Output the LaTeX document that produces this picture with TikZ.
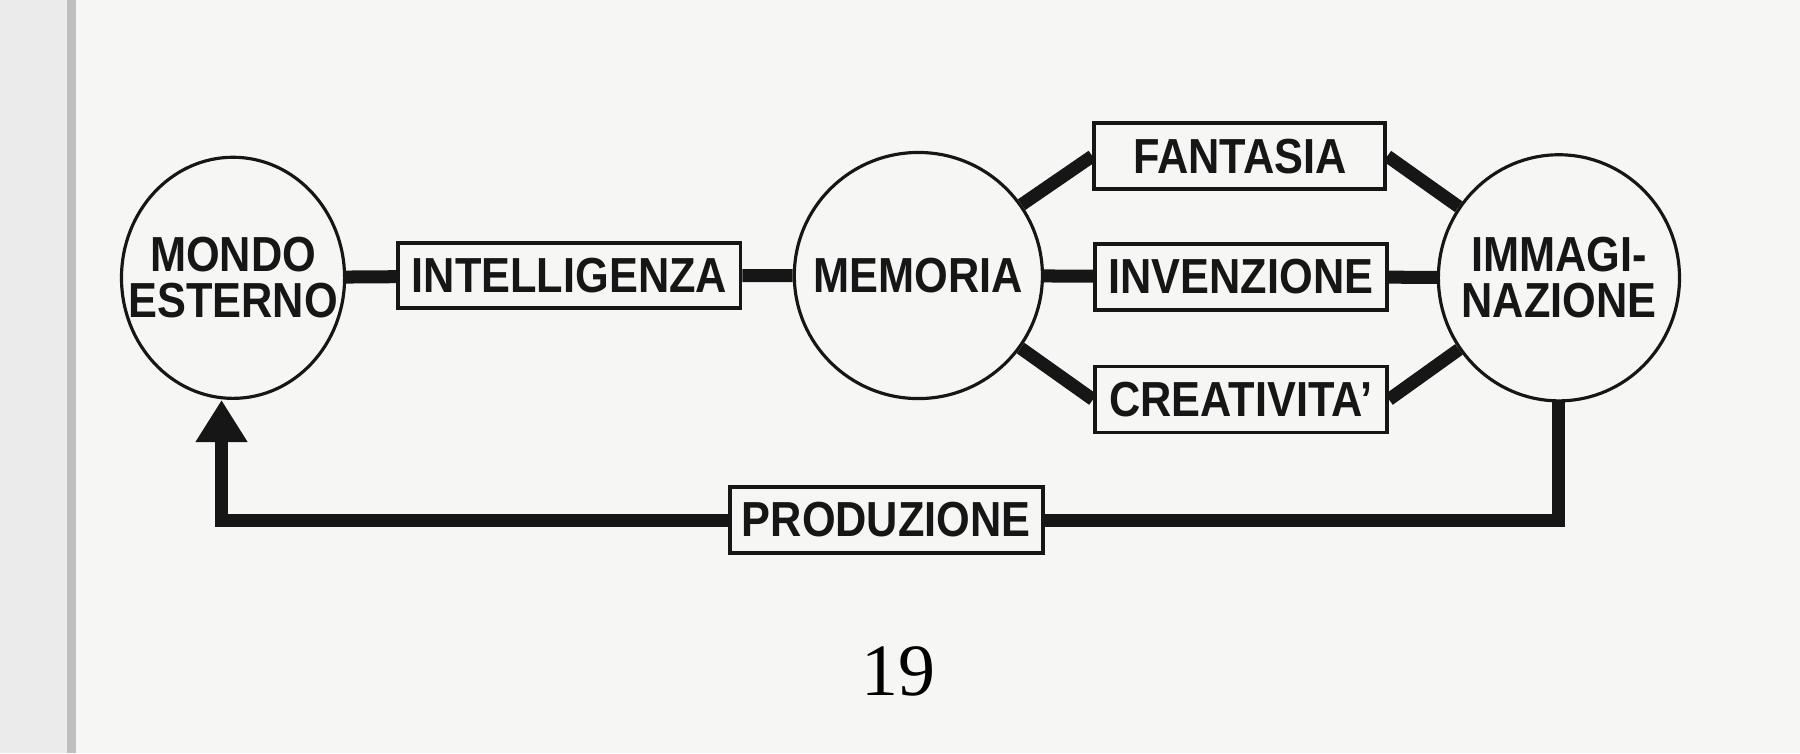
\documentclass[tikz,border=0pt]{standalone}
\usepackage{fontspec}
\setmainfont{Liberation Sans}
\newfontfamily\pagefont{Liberation Serif}
\usetikzlibrary{shapes.geometric, arrows.meta, positioning, backgrounds}
\definecolor{paper}{RGB}{246, 246, 244}
\definecolor{ink}{RGB}{22, 22, 22}
\tikzset{
  txt/.style={font=\fontsize{14}{14}\selectfont\bfseries, text=ink, align=center, inner sep=0pt},
  circ/.style={ellipse, draw=ink, line width=0.9pt, fill=paper, inner sep=0pt},
  box/.style={rectangle, draw=ink, line width=1.1pt, fill=paper, txt},
  link/.style={draw=ink, line width=3.7pt}
}
\newcommand{\sq}[1]{\scalebox{0.88}[1]{#1}}
\begin{document}
\begin{tikzpicture}[x=0.01148cm, y=-0.01148cm]
% Circles
\node[circ, minimum width=2.23cm, minimum height=2.41cm] (mondo) at (203,242) {};
\node[circ, minimum width=2.48cm, minimum height=2.46cm] (mem) at (800,240) {};
\node[circ, minimum width=2.41cm, minimum height=2.46cm] (imm) at (1358,242) {};
\node[txt] (mondotxt) at (mondo) {\sq{MONDO}\\[-1pt]\sq{ESTERNO}};
\node[txt] (memtxt) at (mem) {\sq{MEMORIA}};
\node[txt] (immtxt) at (imm) {\sq{IMMAGI-}\\[-1pt]\sq{NAZIONE}};

% Boxes
\node[box, minimum width=3.42cm, minimum height=0.65cm] (intel) at (496,240) {\sq{INTELLIGENZA}};
\node[box, minimum width=2.91cm, minimum height=0.66cm] (fan) at (1080,136) {\sq{FANTASIA}};
\node[box, minimum width=2.92cm, minimum height=0.66cm] (inv) at (1081,241) {\sq{INVENZIONE}};
\node[box, minimum width=2.92cm, minimum height=0.66cm] (crea) at (1081,348) {\sq{CREATIVITA'}};
\node[box, minimum width=3.13cm, minimum height=0.66cm] (prod) at (772,453) {\sq{PRODUZIONE}};

% Page number
\node[font=\pagefont\fontsize{21}{21}\selectfont] (page) at (783,585) {19};

% Connectors
\begin{scope}[on background layer]
\fill[paper] (0,0) rectangle (1568,656);
\fill[black!25] (58,0) rectangle (66,656);
\fill[black!8] (0,0) rectangle (58,656);
\draw[link] (mondo) -- (intel) -- (mem) -- (inv) -- (imm);
\draw[link] (mem) -- (fan.west) (fan.east) -- (imm);
\draw[link] (mem) -- (crea.west) (crea.east) -- (imm);
\draw[link, -{Triangle[length=12pt, width=14pt]}] (imm.south) -- ++(0,103) -| ([xshift=-0.115cm]mondo.south);
\end{scope}
\end{tikzpicture}
\end{document}
